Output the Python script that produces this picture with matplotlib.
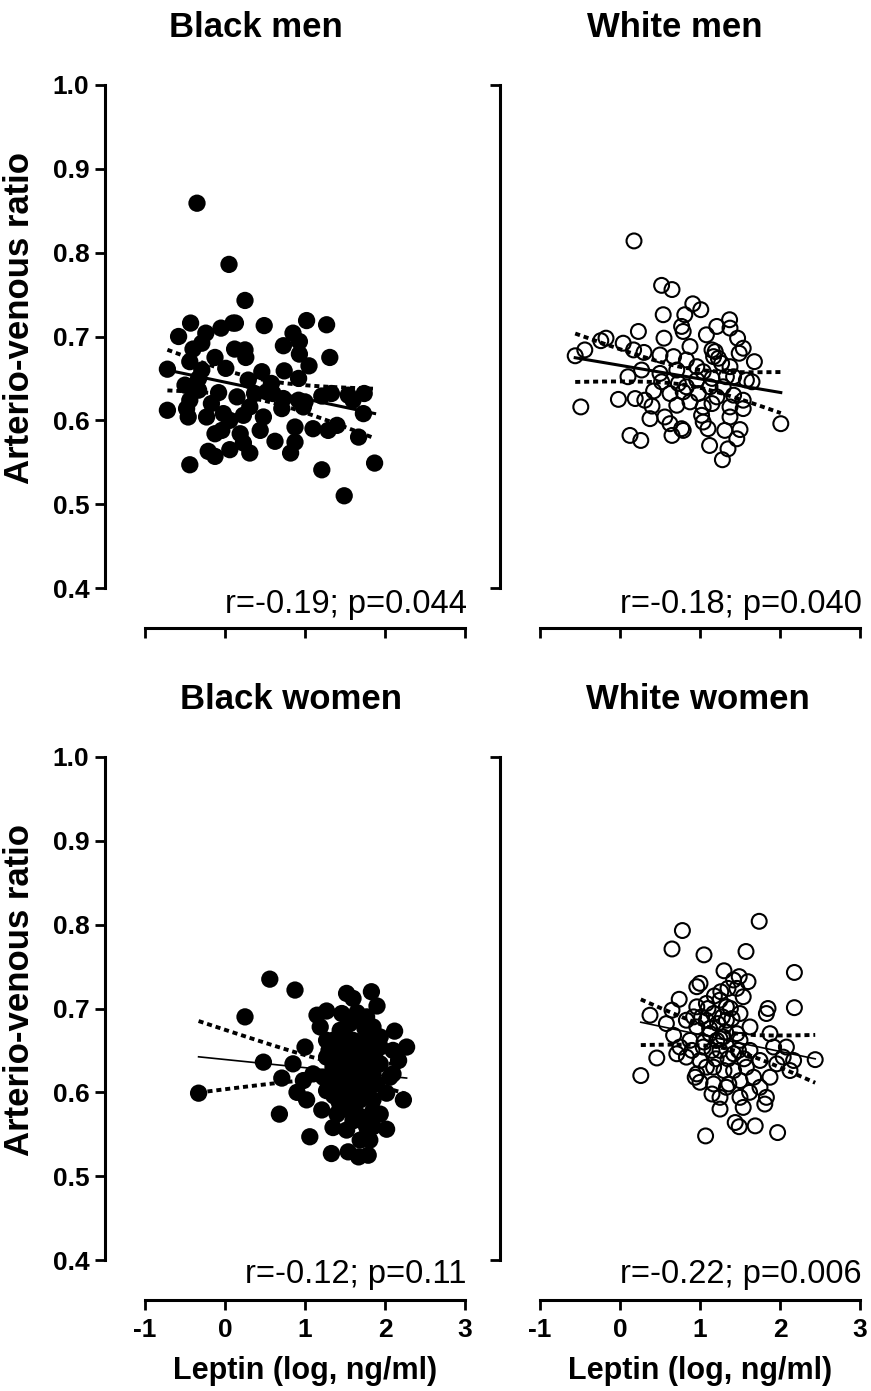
import numpy as np
import matplotlib
matplotlib.use("Agg")
import matplotlib.pyplot as plt

plt.rcParams['font.family'] = ['Liberation Sans', 'DejaVu Sans']

# leptin (log) and arterio-venous ratio
bm_x = [-0.35, 0.05, 0.25, -0.43, -0.58, -0.24, -0.05, 0.10, 0.13, 0.49, 1.02, 1.27, 0.85, 0.93, 0.73, 1.31,
        -0.40, -0.29, -0.125, 0.12, 0.25, 0.26, 0.93, 1.05, -0.72, -0.44, 0.01, 0.74, -0.29, 0.46, -0.33, 0.29,
        0.58, 0.92, -0.50, -0.08, 0.15, 0.37, 0.52, 0.73, 0.92, 1.00, 1.21, 1.33, 1.54, 1.74, 1.60, -0.44,
        -0.72, -0.48, -0.46, -0.23, -0.17, 0.31, 0.48, 0.71, 0.98, 1.73, 0.06, 0.23, -0.125, -0.04, 0.19, 0.44,
        0.625, 0.875, 1.10, 1.29, 1.40, 1.67, 0.875, -0.21, -0.125, 0.06, 0.31, 0.23, 0.82, -0.44, 1.21, 1.87,
        1.49, -0.33, -0.02, 0.60]
bm_y = [0.859, 0.786, 0.743, 0.716, 0.700, 0.704, 0.710, 0.716, 0.716, 0.713, 0.719, 0.714, 0.704, 0.694, 0.689, 0.675,
        0.685, 0.692, 0.675, 0.685, 0.684, 0.675, 0.679, 0.665, 0.661, 0.670, 0.662, 0.659, 0.660, 0.658, 0.650, 0.648,
        0.644, 0.650, 0.642, 0.633, 0.628, 0.632, 0.634, 0.626, 0.624, 0.622, 0.629, 0.632, 0.630, 0.632, 0.624, 0.624,
        0.612, 0.614, 0.604, 0.604, 0.620, 0.616, 0.604, 0.614, 0.616, 0.608, 0.600, 0.606, 0.584, 0.588, 0.584, 0.588,
        0.575, 0.592, 0.590, 0.588, 0.594, 0.580, 0.574, 0.563, 0.557, 0.565, 0.561, 0.573, 0.561, 0.547, 0.541, 0.549,
        0.510, 0.636, 0.608, 0.632]

wm_x = [0.175, 0.52, 0.65, 0.91, 1.01, 0.54, 0.81, 0.77, 0.79, 0.23, -0.175, -0.24, -0.44, -0.56, 0.04, 0.17,
        0.30, 0.55, 0.875, 1.08, 1.21, 1.37, 1.375, 1.47, 1.54, 1.49, 1.19, 1.23, 1.27, 1.68, 0.50, 0.67,
        0.83, 0.96, 0.27, 0.10, 0.52, 0.73, 1.04, 1.15, 1.42, 1.58, 1.65, 1.29, 0.625, 0.79, 0.98, 1.21,
        1.42, 1.54, -0.02, 0.19, 0.31, 0.40, -0.49, 0.71, 1.04, 1.15, 1.375, 1.54, 0.375, 0.56, 0.625, 0.77,
        0.79, 0.65, 1.02, 1.04, 1.10, 1.31, 1.50, 1.46, 2.01, 0.125, 0.26, 1.12, 1.35, 1.28, 1.15, 0.96,
        0.83, 1.125, 1.33, 0.50, 0.71, 0.42, 1.17, 1.375, 0.875, 1.375]
wm_y = [0.814, 0.761, 0.756, 0.739, 0.732, 0.726, 0.726, 0.712, 0.706, 0.706, 0.698, 0.695, 0.684, 0.677, 0.692, 0.684,
        0.681, 0.698, 0.688, 0.702, 0.712, 0.720, 0.710, 0.698, 0.686, 0.680, 0.682, 0.674, 0.668, 0.670, 0.678, 0.676,
        0.672, 0.664, 0.660, 0.652, 0.646, 0.644, 0.658, 0.650, 0.652, 0.648, 0.646, 0.640, 0.632, 0.634, 0.632, 0.628,
        0.630, 0.624, 0.625, 0.626, 0.624, 0.617, 0.616, 0.618, 0.616, 0.620, 0.616, 0.614, 0.602, 0.604, 0.596, 0.590,
        0.588, 0.582, 0.606, 0.598, 0.590, 0.588, 0.589, 0.578, 0.596, 0.582, 0.576, 0.570, 0.566, 0.553, 0.684, 0.648,
        0.640, 0.640, 0.652, 0.656, 0.660, 0.635, 0.676, 0.664, 0.622, 0.604]

bw_x = [-0.33, 0.25, 0.56, 0.875, 0.48, 0.68, 1.06, 1.33, 0.71, 0.90, 1.00, 1.15, 1.27, 1.46, 1.52, 1.60,
        1.83, 1.90, 2.12, 2.27, 2.17, 2.06, 2.23, 2.02, 1.35, 1.21, 1.02, 1.54, 1.67, 1.79, 1.81, 1.19,
        1.44, 1.69, 1.85, 1.94, 1.48, 1.27, 1.65, 1.85, 1.10, 1.44, 1.65, 1.85, 1.27, 1.52, 1.77, 1.44,
        1.65, 1.85, 1.52, 1.77, 1.35, 1.77, 1.56, 1.35, 1.77, 1.60, 1.44, 1.85, 2.02, 1.69, 1.85, 1.60,
        1.23, 1.56, 1.94, 1.77, 0.85, 0.98, 1.94, 2.10, 1.60, 1.94, 1.40, 1.69, 1.27, 2.10,
        1.30, 1.38, 1.50, 1.58, 1.62, 1.72, 1.80, 1.90, 1.42, 1.55, 1.68, 1.75, 1.32, 1.48, 1.62, 1.72,
        1.88, 1.40, 1.58, 1.70, 1.82, 1.50, 1.65, 1.78, 1.36, 1.52, 1.64, 1.74, 1.46, 1.60]
bw_y = [0.599, 0.690, 0.735, 0.722, 0.636, 0.574, 0.547, 0.527, 0.617, 0.600, 0.654, 0.692, 0.697, 0.694, 0.718, 0.712,
        0.720, 0.703, 0.673, 0.654, 0.638, 0.618, 0.591, 0.556, 0.558, 0.579, 0.591, 0.529, 0.523, 0.525, 0.543, 0.678,
        0.674, 0.686, 0.678, 0.666, 0.654, 0.642, 0.642, 0.646, 0.622, 0.622, 0.622, 0.622, 0.602, 0.598, 0.598, 0.582,
        0.574, 0.578, 0.555, 0.559, 0.662, 0.662, 0.630, 0.630, 0.610, 0.610, 0.606, 0.591, 0.599, 0.591, 0.559, 0.566,
        0.618, 0.682, 0.634, 0.690, 0.634, 0.614, 0.654, 0.650, 0.662, 0.574, 0.574, 0.543, 0.662, 0.622,
        0.650, 0.640, 0.668, 0.652, 0.600, 0.640, 0.625, 0.610, 0.590, 0.615, 0.655, 0.676, 0.612, 0.636, 0.590, 0.570,
        0.640, 0.650, 0.625, 0.605, 0.660, 0.580, 0.695, 0.550, 0.596, 0.642, 0.612, 0.628, 0.670, 0.596]

ww_x = [1.74, 0.78, 0.65, 1.05, 1.575, 2.18, 1.30, 1.49, 1.60, 1.00, 0.96, 1.35, 1.46, 1.54, 2.18, 1.85,
        1.83, 0.74, 0.65, 0.46, 0.26, 0.67, 0.71, 0.83, 0.96, 1.08, 1.25, 1.17, 1.33, 1.50, 1.625, 0.96,
        1.125, 1.29, 1.50, 0.875, 1.04, 1.25, 1.42, 1.625, 1.875, 2.08, 2.17, 2.44, 1.96, 2.125, 1.75, 1.58,
        1.42, 1.17, 0.96, 0.83, 0.94, 1.17, 1.33, 1.50, 1.75, 1.875, 1.25, 1.50, 1.81, 1.83, 1.25, 1.54,
        1.44, 1.49, 1.69, 1.97, 1.07, 0.375, 0.58, 0.75, 1.08, 1.33, 1.46, 1.21, 1.00, 1.67, 1.92, 1.42, 2.04,
        1.02, 1.10, 1.18, 1.28, 1.38, 1.12, 1.22, 1.32, 1.05, 1.15, 1.25, 1.35, 0.90, 1.20, 1.40, 1.08,
        1.30, 1.48, 1.00, 1.15, 1.55, 1.62, 0.92, 1.36, 1.26]
ww_y = [0.804, 0.793, 0.771, 0.764, 0.768, 0.743, 0.745, 0.738, 0.732, 0.730, 0.726, 0.724, 0.724, 0.714, 0.701, 0.700,
        0.694, 0.711, 0.698, 0.641, 0.620, 0.668, 0.646, 0.686, 0.702, 0.706, 0.710, 0.694, 0.686, 0.694, 0.678, 0.678,
        0.670, 0.666, 0.662, 0.662, 0.654, 0.650, 0.646, 0.650, 0.670, 0.654, 0.638, 0.639, 0.634, 0.626, 0.638, 0.630,
        0.626, 0.630, 0.622, 0.642, 0.618, 0.610, 0.606, 0.614, 0.606, 0.618, 0.594, 0.594, 0.586, 0.594, 0.580, 0.582,
        0.564, 0.559, 0.560, 0.552, 0.548, 0.692, 0.682, 0.654, 0.686, 0.702, 0.670, 0.662, 0.638, 0.618, 0.654, 0.734, 0.642,
        0.690, 0.700, 0.715, 0.690, 0.700, 0.676, 0.682, 0.672, 0.660, 0.650, 0.664, 0.640, 0.650, 0.640, 0.688, 0.630,
        0.626, 0.650, 0.612, 0.598, 0.640, 0.600, 0.690, 0.610, 0.720]

titles = ["Black men", "White men", "Black women", "White women"]
stats = ["r=-0.19; p=0.044", "r=-0.18; p=0.040", "r=-0.12; p=0.11", "r=-0.22; p=0.006"]
x_ticks = [-1, 0, 1, 2, 3]
y_ticks = [0.4, 0.5, 0.6, 0.7, 0.8, 0.9, 1.0]


def fit_band(x, y):
    x = np.asarray(x)
    y = np.asarray(y)
    n = len(x)
    slope, icpt = np.polyfit(x, y, 1)
    xs = np.linspace(x.min(), x.max(), 100)
    fit = icpt + slope * xs
    s = np.sqrt(np.sum((y - icpt - slope * x) ** 2) / (n - 2))
    se = s * np.sqrt(1 / n + (xs - x.mean()) ** 2 / np.sum((x - x.mean()) ** 2))
    return xs, fit, fit - 1.98 * se, fit + 1.98 * se


fig = plt.figure(figsize=(8.71, 13.91), dpi=100)
W, H = 871, 1391

panels = [
    (bm_x, bm_y, True, 145, 85, 0.347, -0.050),
    (wm_x, wm_y, False, 540, 85, 0.42, -0.050),
    (bw_x, bw_y, True, 145, 757, 0.456, -0.046),
    (ww_x, ww_y, False, 540, 757, 0.494, -0.046),
]

for i, (x, y, filled, left, top, tx, sy) in enumerate(panels):
    ax = fig.add_axes([left / W, 1 - (top + 503) / H, 320 / W, 503 / H])
    ax.set_xlim(-1, 3)
    ax.set_ylim(0.4, 1.0)
    for sp in ["top", "right"]:
        ax.spines[sp].set_visible(False)
    for sp in ["left", "bottom"]:
        ax.spines[sp].set_position(("outward", 29))
        ax.spines[sp].set_linewidth(2.2)
    ax.tick_params(width=2, length=7, direction="out")

    if filled:
        ax.scatter(x, y, s=155, c="black", edgecolors="none", zorder=3, clip_on=False)
    else:
        ax.scatter(x, y, s=115, facecolors="none", edgecolors="black", linewidths=1.5, zorder=3, clip_on=False)

    xs, fit, lo, hi = fit_band(x, y)
    fit_lw = 2.2 if i < 2 else 1.2
    ax.plot(xs, fit, color="black", lw=fit_lw, zorder=4)
    ax.plot(xs, lo, color="black", lw=2.8, ls=(0, (1.3, 1.0)), zorder=4)
    ax.plot(xs, hi, color="black", lw=2.8, ls=(0, (1.3, 1.0)), zorder=4)

    ax.set_xticks(x_ticks)
    if i >= 2:
        ax.set_xticklabels([str(t) for t in x_ticks], fontsize=19, fontweight="bold")
        ax.set_xlabel("Leptin (log, ng/ml)", fontsize=22, fontweight="bold", labelpad=10)
    else:
        ax.set_xticklabels([])
    ax.tick_params(axis="x", pad=6)

    if filled:
        ax.set_yticks(y_ticks)
        ax.set_yticklabels([f"{t:.1f}" for t in y_ticks], fontsize=19, fontweight="bold")
        ax.set_ylabel("Arterio-venous ratio", fontsize=25, fontweight="bold")
        ax.yaxis.set_label_coords(-0.34, 0.537)
    else:
        ax.set_yticks([0.4, 1.0])
        ax.set_yticklabels([])
    ax.tick_params(axis="y", pad=4)

    ax.text(tx, 1 + 48 / 503, titles[i], transform=ax.transAxes, ha="center", va="baseline",
            fontsize=25, fontweight="bold")
    ax.text(1.006, sy, stats[i], transform=ax.transAxes, ha="right", va="baseline", fontsize=23.5)

fig.savefig("out.png", dpi=100)
